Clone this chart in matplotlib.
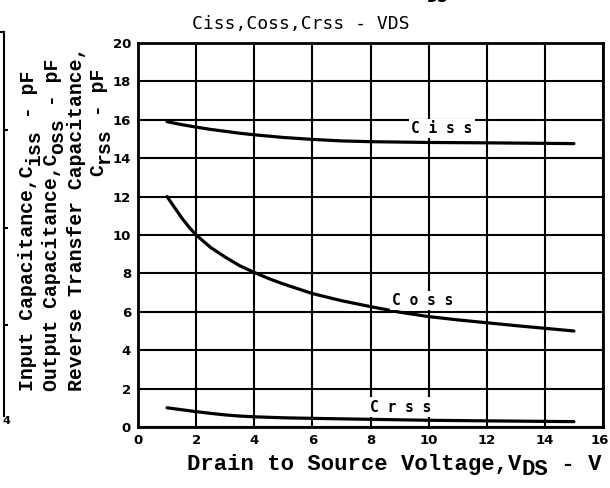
import numpy as np
import matplotlib
matplotlib.use("Agg")
import matplotlib.pyplot as plt
from matplotlib.lines import Line2D
import matplotlib.transforms as mtransforms

# ---------------- data ----------------
x_ticks = [0, 2, 4, 6, 8, 10, 12, 14, 16]
y_ticks = [0, 2, 4, 6, 8, 10, 12, 14, 16, 18, 20]

ciss_v = [1, 1.5, 2, 2.5, 3, 3.5, 4, 5, 6, 7, 8, 10, 12, 15]
ciss_c = [15.9, 15.75, 15.62, 15.5, 15.4, 15.3, 15.22, 15.08, 14.98, 14.9, 14.86, 14.82, 14.8, 14.76]

coss_v = [1, 1.25, 1.5, 1.75, 2, 2.5, 3, 3.5, 4, 4.5, 5, 6, 7, 8, 9, 10, 11, 12, 13, 14, 15]
coss_c = [12.0, 11.45, 10.9, 10.42, 10.0, 9.35, 8.85, 8.4, 8.05, 7.73, 7.45, 6.95, 6.58, 6.27, 5.98, 5.75, 5.58, 5.43, 5.28, 5.14, 5.0]

crss_v = [1, 1.5, 2, 2.5, 3, 3.5, 4, 5, 6, 8, 10, 12, 15]
crss_c = [1.0, 0.9, 0.8, 0.71, 0.63, 0.57, 0.53, 0.48, 0.45, 0.4, 0.35, 0.32, 0.28]

title = "Ciss,Coss,Crss - VDS"
# --------------------------------------

W, H = 610, 488
fig = plt.figure(figsize=(W / 100, H / 100), dpi=100)
fig.patch.set_facecolor("white")

def fx(px):
    return px / W

def fy(py):
    return 1 - py / H

ax = fig.add_axes([fx(138), fy(427), fx(603) - fx(138), fy(43) - fy(427)])
ax.set_xlim(0, 16)
ax.set_ylim(0, 20)
ax.set_xticks(x_ticks)
ax.set_yticks(y_ticks)
ax.grid(True, color="black", lw=1.5)
for s in ax.spines.values():
    s.set_linewidth(2)
ax.tick_params(length=0, pad=5, labelsize=9.5)
for lab in ax.get_xticklabels() + ax.get_yticklabels():
    lab.set_fontweight("bold")
    lab.set_family("DejaVu Sans")
last = ax.get_xticklabels()[-1]
last.set_transform(last.get_transform() +
                   mtransforms.ScaledTranslation(-3 / 100, 0, fig.dpi_scale_trans))

lw = 2.3
for xs, ys in [(ciss_v, ciss_c), (coss_v, coss_c), (crss_v, crss_c)]:
    ax.plot(xs, ys, color="black", lw=lw, solid_capstyle="round",
            solid_joinstyle="round")

lab_kw = dict(family="DejaVu Sans Mono", fontsize=10.5, fontweight="bold",
              ha="center", va="center",
              bbox=dict(facecolor="white", edgecolor="none", pad=1.5))
ax.text(10.46, 15.57, "C i s s", **lab_kw)
ax.text(9.81, 6.6, "C o s s", **lab_kw)
ax.text(9.02, 1.04, "C r s s", **lab_kw)

fig.text(fx(301), fy(24), title, family="DejaVu Sans Mono", fontsize=13,
         ha="center", va="center")
fig.text(fx(438), fy(-3), "DS", family="DejaVu Sans Mono", fontsize=13,
         fontweight="bold", ha="center", va="center")

# left partial frame of neighbouring chart
fig.add_artist(Line2D([fx(4), fx(4)], [fy(32), fy(416)], color="black", lw=1.5,
                      transform=fig.transFigure))
fig.add_artist(Line2D([fx(0), fx(4)], [fy(32), fy(32)], color="black", lw=1.5,
                      transform=fig.transFigure))
for ty in [130, 228, 325]:
    fig.add_artist(Line2D([fx(4), fx(7)], [fy(ty), fy(ty)], color="black", lw=1.5,
                          transform=fig.transFigure))
fig.text(fx(6), fy(421), "4", fontsize=8, fontweight="bold", ha="center", va="center")

fig.canvas.draw()
renderer = fig.canvas.get_renderer()

mono = dict(family="Liberation Mono", fontweight="bold")


def vertical_label(x_px, y_px, pieces, size):
    """pieces: list of (text, is_sub). Stacks rotated pieces bottom->top."""
    y = y_px
    for s, sub in pieces:
        dx = 6 if sub else 0
        t = fig.text(fx(x_px + dx), fy(y), s, rotation=90, ha="center",
                     va="bottom", fontsize=size, **mono)
        bb = t.get_window_extent(renderer)
        y -= bb.height


def horizontal_label(x_px, y_px, pieces, size):
    x = x_px
    for s, sub in pieces:
        dy = 5 if sub else 0
        t = fig.text(fx(x), fy(y_px + dy), s, ha="left", va="baseline",
                     fontsize=size, **mono)
        bb = t.get_window_extent(renderer)
        x += bb.width


ysz = 14.2
vertical_label(28, 391, [("Input Capacitance,C", False), ("iss", True), (" - pF", False)], ysz)
vertical_label(52, 391, [("Output Capacitance,C", False), ("oss", True), (" - pF", False)], ysz)
vertical_label(77, 391, [("Reverse Transfer Capacitance,", False)], ysz)
vertical_label(98, 176, [("C", False), ("rss", True), (" - pF", False)], ysz)

horizontal_label(187, 470, [("Drain to Source Voltage,V", False), ("DS", True), (" - V", False)], 16)

fig.savefig("out.png", dpi=100, facecolor="white")
